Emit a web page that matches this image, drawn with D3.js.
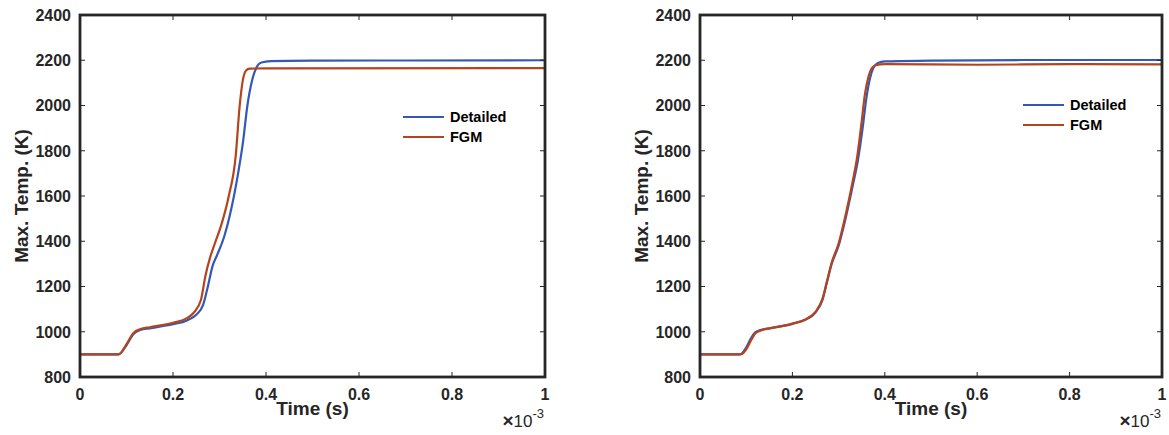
<!DOCTYPE html>
<html>
<head>
<meta charset="utf-8">
<script src="https://cdn.jsdelivr.net/npm/d3@7"></script>
<style>
  body { margin: 0; background: #fff; }
  svg { display: block; font-family: "Liberation Sans", Arial, Helvetica, sans-serif; }
</style>
</head>
<body>
<svg id="chart" width="1169" height="435"></svg>
<script>
// time in units of 1e-3 s, temperature in K
const leftDetailed = [
  [0, 900], [0.08, 900], [0.085, 902], [0.10, 940], [0.115, 990], [0.13, 1008], [0.15, 1015],
  [0.2, 1033], [0.23, 1050], [0.25, 1075], [0.265, 1120], [0.275, 1200], [0.285, 1290],
  [0.295, 1340], [0.31, 1420], [0.325, 1540], [0.34, 1700], [0.35, 1830], [0.36, 2000],
  [0.37, 2110], [0.38, 2170], [0.39, 2190], [0.41, 2196], [0.5, 2198], [0.7, 2199], [1.0, 2200]
];
const leftFGM = [
  [0, 900], [0.08, 900], [0.085, 902], [0.10, 945], [0.115, 995], [0.13, 1012], [0.15, 1020],
  [0.2, 1040], [0.23, 1060], [0.245, 1085], [0.26, 1140], [0.27, 1250], [0.28, 1330],
  [0.29, 1390], [0.305, 1480], [0.32, 1600], [0.335, 1780], [0.343, 1990], [0.35, 2110],
  [0.357, 2155], [0.365, 2163], [0.4, 2164], [1.0, 2165]
];
const rightDetailed = [
  [0, 900], [0.085, 900], [0.09, 903], [0.10, 930], [0.11, 970], [0.12, 998], [0.135, 1010],
  [0.15, 1015], [0.2, 1035], [0.23, 1055], [0.25, 1085], [0.265, 1140], [0.275, 1220],
  [0.285, 1300], [0.3, 1380], [0.315, 1500], [0.33, 1640], [0.342, 1760], [0.352, 1900],
  [0.36, 2030], [0.368, 2120], [0.375, 2165], [0.385, 2188], [0.4, 2195], [0.5, 2198],
  [0.7, 2201], [1.0, 2201]
];
const rightFGM = [
  [0, 900], [0.087, 900], [0.092, 903], [0.10, 922], [0.11, 960], [0.12, 993], [0.135, 1008],
  [0.15, 1015], [0.2, 1036], [0.23, 1056], [0.25, 1088], [0.265, 1145], [0.275, 1225],
  [0.285, 1305], [0.3, 1390], [0.315, 1515], [0.33, 1660], [0.34, 1770], [0.35, 1930],
  [0.357, 2050], [0.365, 2130], [0.372, 2165], [0.38, 2178], [0.4, 2183], [0.6, 2180],
  [0.8, 2183], [1.0, 2182]
];
const xTicks = [0, 0.2, 0.4, 0.6, 0.8, 1];
const yTicks = [800, 1000, 1200, 1400, 1600, 1800, 2000, 2200, 2400];
const seriesNames = ['Detailed', 'FGM'];
const seriesColors = ['#3459b5', '#b5441c'];

const svg = d3.select('#chart');
const axisColor = '#262626';

function drawPanel(left, right, legendX, legendY, detailed, fgm) {
  const top = 15, bottom = 377;
  const x = d3.scaleLinear().domain([0, 1]).range([left, right]);
  const y = d3.scaleLinear().domain([800, 2400]).range([bottom, top]);
  const g = svg.append('g');

  const line = d3.line()
    .x(d => x(d[0]))
    .y(d => y(d[1]))
    .curve(d3.curveMonotoneX);

  [detailed, fgm].forEach((data, i) => {
    g.append('path')
      .datum(data)
      .attr('fill', 'none')
      .attr('stroke', seriesColors[i])
      .attr('stroke-width', 2.2)
      .attr('stroke-linejoin', 'round')
      .attr('d', line);
  });

  // ticks (inward, on all four sides)
  const tl = 5;
  xTicks.forEach(t => {
    g.append('line').attr('x1', x(t)).attr('x2', x(t)).attr('y1', bottom).attr('y2', bottom - tl)
      .attr('stroke', axisColor).attr('stroke-width', 1);
    g.append('line').attr('x1', x(t)).attr('x2', x(t)).attr('y1', top).attr('y2', top + tl)
      .attr('stroke', axisColor).attr('stroke-width', 1);
    g.append('text')
      .attr('x', x(t)).attr('y', 400)
      .attr('text-anchor', 'middle')
      .attr('font-size', '16px').attr('font-weight', 'bold').attr('fill', axisColor)
      .text(d3.format('~g')(t));
  });
  yTicks.forEach(t => {
    g.append('line').attr('x1', left).attr('x2', left + tl).attr('y1', y(t)).attr('y2', y(t))
      .attr('stroke', axisColor).attr('stroke-width', 1);
    g.append('line').attr('x1', right).attr('x2', right - tl).attr('y1', y(t)).attr('y2', y(t))
      .attr('stroke', axisColor).attr('stroke-width', 1);
    g.append('text')
      .attr('x', left - 9).attr('y', y(t)).attr('dy', '0.36em')
      .attr('text-anchor', 'end')
      .attr('font-size', '16px').attr('font-weight', 'bold').attr('fill', axisColor)
      .text(t);
  });

  // box
  g.append('rect')
    .attr('x', left).attr('y', top)
    .attr('width', right - left).attr('height', bottom - top)
    .attr('fill', 'none').attr('stroke', axisColor).attr('stroke-width', 2.8);

  // axis labels
  g.append('text')
    .attr('transform', `translate(${left - 59},${(top + bottom) / 2}) rotate(-90)`)
    .attr('text-anchor', 'middle').attr('dy', '0.36em')
    .attr('font-size', '19px').attr('font-weight', 'bold').attr('fill', axisColor)
    .text('Max. Temp. (K)');
  g.append('text')
    .attr('x', (left + right) / 2).attr('y', 415)
    .attr('text-anchor', 'middle')
    .attr('font-size', '19px').attr('font-weight', 'bold').attr('fill', axisColor)
    .text('Time (s)');

  // exponent label
  const ex = g.append('text')
    .attr('x', right - 1).attr('y', 427)
    .attr('text-anchor', 'end')
    .attr('font-size', '17px').attr('fill', axisColor);
  ex.append('tspan').attr('font-weight', 'bold').attr('font-size', '19px').text('\u00d7');
  ex.append('tspan').text('10');
  ex.append('tspan').attr('dy', -9).attr('font-size', '13px').text('-3');

  // legend
  seriesNames.forEach((name, i) => {
    const ly = legendY + i * 20;
    g.append('line')
      .attr('x1', legendX).attr('x2', legendX + 41)
      .attr('y1', ly).attr('y2', ly)
      .attr('stroke', seriesColors[i]).attr('stroke-width', 2);
    g.append('text')
      .attr('x', legendX + 47).attr('y', ly).attr('dy', '0.36em')
      .attr('font-size', '14.5px').attr('font-weight', 'bold').attr('fill', '#000')
      .text(name);
  });
}

drawPanel(80, 545, 403, 117, leftDetailed, leftFGM);
drawPanel(700, 1162, 1023, 105, rightDetailed, rightFGM);
</script>
</body>
</html>
